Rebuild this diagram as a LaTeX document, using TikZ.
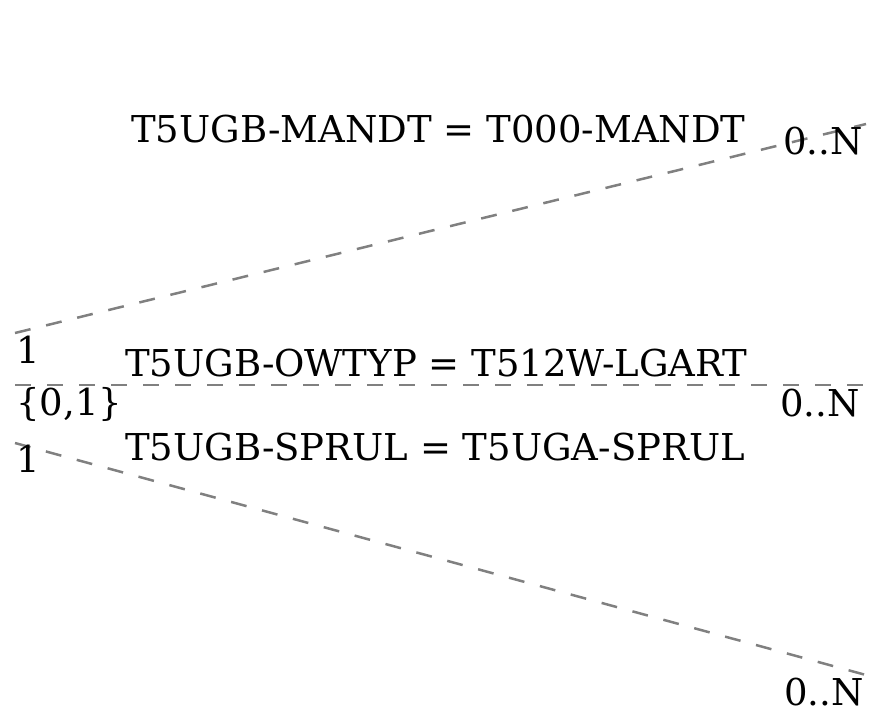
\documentclass[tikz,border=0pt]{standalone}
\usepackage{fontspec}
\setmainfont{DejaVu Serif}
\begin{document}
\begin{tikzpicture}[x=1pt,y=-1pt,
  rel/.style={draw=gray, line width=2.5pt, dash pattern=on 16pt off 16pt},
  lbl/.style={inner sep=0pt, font=\fontsize{37}{44}\selectfont, anchor=base west}]
\useasboundingbox (0,0) rectangle (871,724);
\coordinate (a1) at (15,333);
\coordinate (a2) at (866,124);
\coordinate (b1) at (15,385);
\coordinate (b2) at (866,385);
\coordinate (c1) at (15,443);
\coordinate (c2) at (866,675);
\draw[rel] (a1) -- (a2);
\draw[rel] (b1) -- (b2);
\draw[rel] (c1) -- (c2);
\node[lbl] (la) at (131,142) {T5UGB-MANDT = T000-MANDT};
\node[lbl] (ca) at (783,154) {0..N};
\node[lbl] (sa) at (16,363) {1};
\node[lbl] (lb) at (125,376) {T5UGB-OWTYP = T512W-LGART};
\node[lbl] (sb) at (16,415) {\{0,1\}};
\node[lbl] (cb) at (780,416) {0..N};
\node[lbl] (lc) at (125,460) {T5UGB-SPRUL = T5UGA-SPRUL};
\node[lbl] (sc) at (16,472) {1};
\node[lbl] (cc) at (784,705) {0..N};
\end{tikzpicture}
\end{document}
